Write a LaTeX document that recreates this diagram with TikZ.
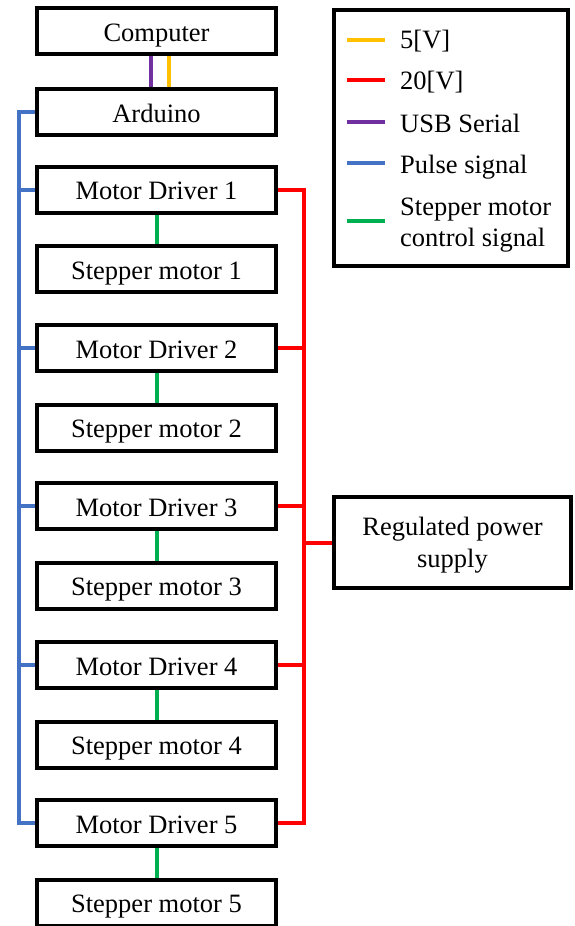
\documentclass[tikz,border=0pt]{standalone}
\usepackage{fontspec}
\setmainfont{Liberation Serif}
\definecolor{cfive}{HTML}{FFC000}
\definecolor{ctwenty}{HTML}{FF0000}
\definecolor{cusb}{HTML}{7030A0}
\definecolor{cpulse}{HTML}{4472C4}
\definecolor{cctrl}{HTML}{00B050}
\begin{document}
\begin{tikzpicture}[x=1pt,y=-1pt,
  blk/.style={draw=black,line width=4pt,fill=white,minimum width=239pt,minimum height=46pt,inner sep=0pt,
    text height=20pt,text depth=0pt,font=\fontsize{26.5}{32}\selectfont},
  wire/.style={line width=4pt},
  vfive/.style={wire,draw=cfive},
  vtwenty/.style={wire,draw=ctwenty},
  usbline/.style={wire,draw=cusb},
  pulseline/.style={wire,draw=cpulse},
  ctrlline/.style={wire,draw=cctrl},
  lgtext/.style={anchor=base west,inner sep=0pt,align=left,font=\fontsize{26.5}{31}\selectfont}]
\useasboundingbox (0,0) rectangle (574,926);

% main chain of blocks
\node[blk] (comp) at (156.5,31) {Computer};
\node[blk] (ard) at (156.5,112) {Arduino};
\foreach \i/\y in {1/189.5,2/348,3/506,4/665,5/823}{
  \node[blk] (md\i) at (156.5,\y) {Motor Driver \i};
  \node[blk] (sm\i) at (156.5,\y+79.5) {Stepper motor \i};
}
\node[blk,minimum width=237pt,minimum height=91pt,align=center,text height=51pt,text depth=2pt] (psu)
  at (452.5,542.5) {Regulated power\\supply};

% bus positions
\coordinate (pbus) at (19,0);
\coordinate (rbus) at (304,0);

% computer to arduino
\draw[usbline] ([xshift=-5.5pt]comp.south) -- ([xshift=-5.5pt]ard.north);
\draw[vfive] ([xshift=12.5pt]comp.south) -- ([xshift=12.5pt]ard.north);

% pulse bus
\draw[pulseline] (ard.west) -- (ard.west -| pbus) -- (md5.west -| pbus) -- (md5.west);
\foreach \i in {1,2,3,4}{
  \draw[pulseline] (md\i.west) -- (md\i.west -| pbus);
}

% 20V supply bus
\draw[vtwenty] (md1.east) -- (md1.east -| rbus) -- (md5.east -| rbus) -- (md5.east);
\foreach \i in {2,3,4}{
  \draw[vtwenty] (md\i.east) -- (md\i.east -| rbus);
}
\draw[vtwenty] (psu.west) -- (psu.west -| rbus);

% driver to motor
\foreach \i in {1,...,5}{
  \draw[ctrlline] (md\i.south) -- (sm\i.north);
}

% legend
\node[draw=black,line width=4pt,minimum width=234pt,minimum height=256pt,inner sep=0pt] (legend) at (451,138) {};
\foreach \n/\y/\s in {a/39.5/vfive,b/80/vtwenty,c/121.5/usbline,d/163/pulseline,e/220.5/ctrlline}{
  \coordinate (k\n1) at (347,\y);
  \coordinate (k\n2) at (385,\y);
  \draw[\s] (k\n1) -- (k\n2);
}
\node[lgtext] (la) at (400,48) {5[V]};
\node[lgtext] (lb) at (400,89) {20[V]};
\node[lgtext] (lc) at (400,132) {USB Serial};
\node[lgtext] (ld) at (400,173) {Pulse signal};
\node[lgtext] (le) at (400,246) {Stepper motor\\control signal};
\end{tikzpicture}
\end{document}
